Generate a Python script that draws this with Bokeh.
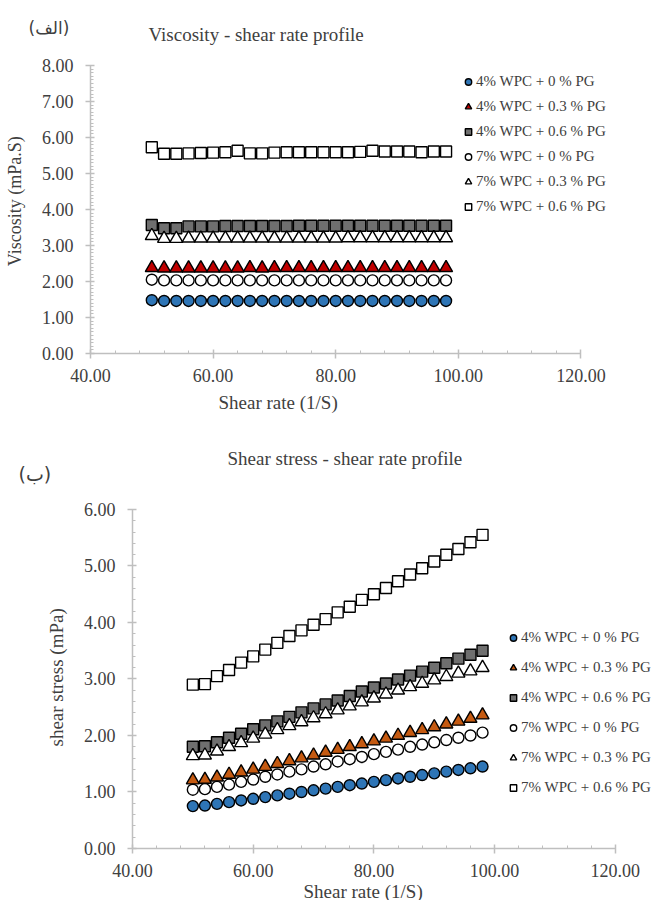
from bokeh.plotting import figure
from bokeh.models import (Range1d, SingleIntervalTicker, PrintfTickFormatter,
                          Legend, LegendItem, Title)
from bokeh.embed import file_html
from bokeh.resources import INLINE

# ---------------- data ----------------
shear_rate = [50, 52, 54, 56, 58, 60, 62, 64, 66, 68, 70, 72, 74,
              76, 78, 80, 82, 84, 86, 88, 90, 92, 94, 96, 98]

series_labels = ["4% WPC + 0 % PG", "4% WPC + 0.3 % PG", "4% WPC + 0.6 % PG",
                 "7% WPC + 0 % PG", "7% WPC + 0.3 % PG", "7% WPC + 0.6 % PG"]

# viscosity (mPa.S)
visc_4_00 = [1.48, 1.46, 1.46, 1.46, 1.46, 1.46, 1.46, 1.46, 1.46, 1.46, 1.46, 1.46, 1.46,
             1.46, 1.46, 1.46, 1.46, 1.46, 1.46, 1.46, 1.46, 1.46, 1.46, 1.46, 1.46]
visc_4_03 = [2.38, 2.37, 2.37, 2.37, 2.37, 2.37, 2.37, 2.37, 2.38, 2.37, 2.38, 2.38, 2.38,
             2.38, 2.38, 2.38, 2.38, 2.38, 2.38, 2.38, 2.38, 2.38, 2.38, 2.38, 2.38]
visc_4_06 = [3.57, 3.48, 3.48, 3.53, 3.53, 3.53, 3.54, 3.54, 3.54, 3.54, 3.54, 3.54, 3.55,
             3.55, 3.55, 3.55, 3.55, 3.55, 3.55, 3.55, 3.55, 3.55, 3.55, 3.55, 3.55]
visc_7_00 = [2.05, 2.03, 2.03, 2.03, 2.03, 2.03, 2.03, 2.03, 2.03, 2.03, 2.03, 2.03, 2.03,
             2.03, 2.03, 2.03, 2.03, 2.03, 2.03, 2.03, 2.03, 2.03, 2.03, 2.03, 2.03]
visc_7_03 = [3.27, 3.19, 3.19, 3.20, 3.20, 3.20, 3.20, 3.20, 3.20, 3.20, 3.20, 3.20, 3.20,
             3.20, 3.20, 3.20, 3.21, 3.21, 3.21, 3.21, 3.21, 3.21, 3.21, 3.21, 3.21]
visc_7_06 = [5.73, 5.55, 5.55, 5.56, 5.57, 5.58, 5.59, 5.63, 5.56, 5.56, 5.58, 5.59, 5.59,
             5.59, 5.59, 5.59, 5.59, 5.60, 5.63, 5.61, 5.61, 5.61, 5.59, 5.61, 5.61]

# shear stress (mPa)
stress_4_00 = [0.75, 0.76, 0.79, 0.82, 0.85, 0.88, 0.91, 0.94, 0.97, 1.00, 1.03, 1.06, 1.09,
               1.12, 1.15, 1.18, 1.21, 1.24, 1.27, 1.30, 1.33, 1.36, 1.39, 1.42, 1.45]
stress_4_03 = [1.21, 1.22, 1.26, 1.31, 1.35, 1.40, 1.45, 1.50, 1.55, 1.60, 1.65, 1.70, 1.75,
               1.80, 1.85, 1.90, 1.95, 2.00, 2.05, 2.10, 2.15, 2.20, 2.25, 2.30, 2.36]
stress_4_06 = [1.80, 1.81, 1.88, 1.96, 2.03, 2.11, 2.18, 2.25, 2.33, 2.41, 2.48, 2.55, 2.62,
               2.70, 2.78, 2.85, 2.92, 2.99, 3.06, 3.13, 3.20, 3.28, 3.36, 3.43, 3.50]
stress_7_00 = [1.04, 1.05, 1.09, 1.13, 1.18, 1.22, 1.27, 1.31, 1.36, 1.40, 1.45, 1.49, 1.54,
               1.58, 1.62, 1.67, 1.71, 1.75, 1.80, 1.84, 1.88, 1.92, 1.96, 2.00, 2.05]
stress_7_03 = [1.64, 1.65, 1.72, 1.80, 1.87, 1.95, 2.02, 2.10, 2.17, 2.24, 2.31, 2.38, 2.45,
               2.52, 2.59, 2.66, 2.73, 2.80, 2.86, 2.92, 2.98, 3.04, 3.10, 3.14, 3.20]
stress_7_06 = [2.90, 2.91, 3.05, 3.16, 3.29, 3.40, 3.52, 3.64, 3.76, 3.86, 3.96, 4.06, 4.18,
               4.28, 4.40, 4.50, 4.61, 4.73, 4.85, 4.96, 5.08, 5.20, 5.30, 5.42, 5.55]

SERIF = "Liberation Serif"
TXT = "#404040"
AXC = "#bfbfbf"


def style(p, y_minor, ymax):
    p.xaxis.ticker = SingleIntervalTicker(interval=20, num_minor_ticks=5)
    p.yaxis.ticker = SingleIntervalTicker(interval=1, num_minor_ticks=y_minor)
    p.xaxis.bounds = (40, 120)
    p.yaxis.bounds = (0, ymax)
    for ax in (p.xaxis[0], p.yaxis[0]):
        ax.formatter = PrintfTickFormatter(format="%.2f")
        ax.axis_line_color = AXC
        ax.axis_line_width = 1.5
        ax.major_tick_line_color = AXC
        ax.major_tick_line_width = 1.5
        ax.minor_tick_line_color = AXC
        ax.minor_tick_line_width = 1
        ax.major_tick_in = 4
        ax.major_tick_out = 5
        ax.minor_tick_in = 3
        ax.minor_tick_out = 0
        ax.major_label_text_font = SERIF
        ax.major_label_text_font_size = "18px"
        ax.major_label_text_color = TXT
        ax.axis_label_text_font = SERIF
        ax.axis_label_text_font_size = "18px"
        ax.axis_label_text_font_style = "normal"
        ax.axis_label_text_color = TXT
    p.xaxis.major_label_standoff = 10
    p.yaxis.major_label_standoff = 12
    p.yaxis.axis_label_standoff = 14
    p.xgrid.visible = False
    p.ygrid.visible = False
    p.outline_line_color = None


def draw(p, ys, tri_color):
    fills = ["#2e75b6", tri_color, "#6f6f6f", "white", "white", "white"]
    markers = ["circle", "triangle", "square", "circle", "triangle", "square"]
    sizes = [11, 13, 11, 11, 13, 11]
    items = []
    for y, f, m, s, lbl in zip(ys, fills, markers, sizes, series_labels):
        r = p.scatter(shear_rate, y, marker=m, size=s, fill_color=f,
                      line_color="black", line_width=1.4)
        items.append(LegendItem(label=lbl, renderers=[r]))
    return items


def make_legend(items, loc, spacing):
    return Legend(items=items, location=loc, glyph_width=16, glyph_height=17,
                  label_height=17, label_standoff=0, spacing=spacing, padding=0,
                  margin=0, border_line_color=None, background_fill_alpha=0,
                  label_text_font=SERIF, label_text_font_size="15px",
                  label_text_color=TXT)


def title(p, side, s, offset, standoff, font=SERIF, size="19px"):
    p.add_layout(Title(text=s, align="left", offset=offset, standoff=standoff,
                       text_font=font, text_font_size=size, text_font_style="normal",
                       text_color=TXT), side)


# ---------------- top chart ----------------
p1 = figure(frame_width=563, frame_height=309, min_border_left=90, min_border_right=0,
            min_border_top=44, min_border_bottom=72, x_range=Range1d(40, 131.84),
            y_range=Range1d(0, 8.583), output_backend="svg", toolbar_location=None,
            background_fill_color="white", border_fill_color="white")
style(p1, 10, 8)
p1.yaxis.axis_label = "Viscosity  (mPa.S)"
items1 = draw(p1, [visc_4_00, visc_4_03, visc_4_06, visc_7_00, visc_7_03, visc_7_06],
              "#c00000")
p1.add_layout(make_legend(items1, (370, 138), 8))
title(p1, "above", "Viscosity - shear rate profile", 58, 0)
title(p1, "above", "(الف)", -62, -32, font="DejaVu Sans", size="17px")
title(p1, "below", "Shear rate (1/S)", 128, 10)

# ---------------- bottom chart ----------------
p2 = figure(frame_width=521, frame_height=372, min_border_left=132, min_border_right=0,
            min_border_top=51, min_border_bottom=10, x_range=Range1d(40, 126.33),
            y_range=Range1d(0, 6.584), output_backend="svg", toolbar_location=None,
            background_fill_color="white", border_fill_color="white")
style(p2, 5, 6)
items2 = draw(p2, [stress_4_00, stress_4_03, stress_4_06, stress_7_00, stress_7_03,
                   stress_7_06], "#c55a11")
p2.add_layout(make_legend(items2, (373, 52), 13))
title(p2, "above", "(ب)", -114, -16, font="DejaVu Sans", size="19px")
title(p2, "above", "Shear stress - shear rate profile", 95, 0)
title(p2, "below", "Shear rate (1/S)", 171, -2)
title(p2, "left", "shear stress (mPa)", 102, 28)

open("out.html", "w").write(file_html([p1, p2], INLINE))
